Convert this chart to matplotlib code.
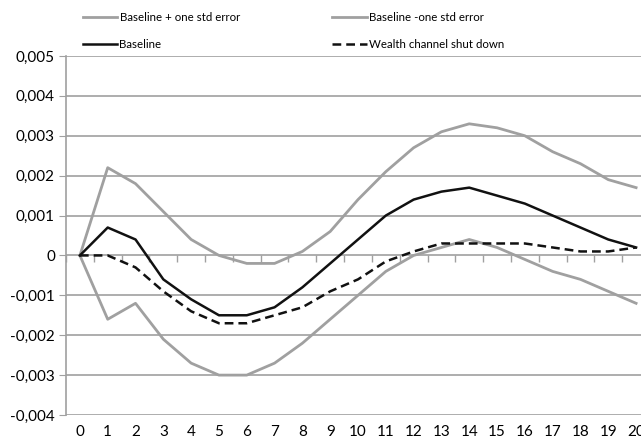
import numpy as np
import matplotlib.pyplot as plt

periods = list(range(21))

upper = [0, 0.0022, 0.0018, 0.0011, 0.0004, 0.0, -0.0002, -0.0002, 0.0001, 0.0006,
         0.0014, 0.0021, 0.0027, 0.0031, 0.0033, 0.0032, 0.0030, 0.0026, 0.0023, 0.0019, 0.0017]
baseline = [0, 0.0007, 0.0004, -0.0006, -0.0011, -0.0015, -0.0015, -0.0013, -0.0008, -0.0002,
            0.0004, 0.0010, 0.0014, 0.0016, 0.0017, 0.0015, 0.0013, 0.0010, 0.0007, 0.0004, 0.0002]
lower = [0, -0.0016, -0.0012, -0.0021, -0.0027, -0.0030, -0.0030, -0.0027, -0.0022, -0.0016,
         -0.0010, -0.0004, 0.0, 0.0002, 0.0004, 0.0002, -0.0001, -0.0004, -0.0006, -0.0009, -0.0012]
wealth = [0, 0.0, -0.0003, -0.0009, -0.0014, -0.0017, -0.0017, -0.0015, -0.0013, -0.0009,
          -0.0006, -0.00015, 0.0001, 0.0003, 0.0003, 0.0003, 0.0003, 0.0002, 0.0001, 0.0001, 0.0002]

yticks = [-0.004, -0.003, -0.002, -0.001, 0, 0.001, 0.002, 0.003, 0.004, 0.005]
ytick_labels = ['-0,004', '-0,003', '-0,002', '-0,001', '0', '0,001', '0,002', '0,003', '0,004', '0,005']

plt.rcParams['font.family'] = ['Lato', 'DejaVu Sans']
gray = '#a0a0a0'

fig = plt.figure(figsize=(6.41, 4.42), dpi=100)
ax = fig.add_axes([66 / 641, 1 - 415 / 442, (650 - 66) / 641, (415 - 56) / 442])

for v in yticks:
    ax.axhline(v, color=gray, lw=1.2, zorder=0)

l_up, = ax.plot(periods, upper, color=gray, lw=2.0, label='Baseline + one std error')
l_lo, = ax.plot(periods, lower, color=gray, lw=2.0, label='Baseline -one std error')
l_base, = ax.plot(periods, baseline, color='#111111', lw=1.8, label='Baseline')
l_w, = ax.plot(periods, wealth, color='#111111', lw=1.8, ls=(0, (3.5, 2)), label='Wealth channel shut down')

ax.set_xlim(-0.5, 20.5)
ax.set_ylim(-0.004, 0.005)
ax.set_yticks(yticks)
ax.set_yticklabels(ytick_labels, fontsize=11)
ax.set_xticks(periods)
ax.set_xticklabels([str(p) for p in periods], fontsize=11)
ax.tick_params(axis='x', length=0, pad=7)
ax.tick_params(axis='y', length=5, color=gray, pad=3)

for s in ['top', 'right', 'bottom']:
    ax.spines[s].set_visible(False)
ax.spines['left'].set_color(gray)
ax.spines['left'].set_linewidth(1.2)

# category axis crossing at zero, with tick marks between categories
sec = ax.secondary_xaxis(4 / 9)
sec.set_xticks(np.arange(-0.5, 20.5, 1.0))
sec.set_xticklabels([])
sec.tick_params(length=5, color=gray, width=1.0, direction='out')
sec.spines['bottom'].set_visible(False)

handles = [l_up, l_base, l_lo, l_w]
fig.legend(handles=handles, labels=[h.get_label() for h in handles], ncol=2,
           loc='upper left', bbox_to_anchor=(78 / 641, 1 - 7 / 442), frameon=False,
           fontsize=8.3, handlelength=3.0, handletextpad=0.2, columnspacing=8.0,
           labelspacing=1.4, borderaxespad=0)

fig.savefig('out.png', dpi=100)
